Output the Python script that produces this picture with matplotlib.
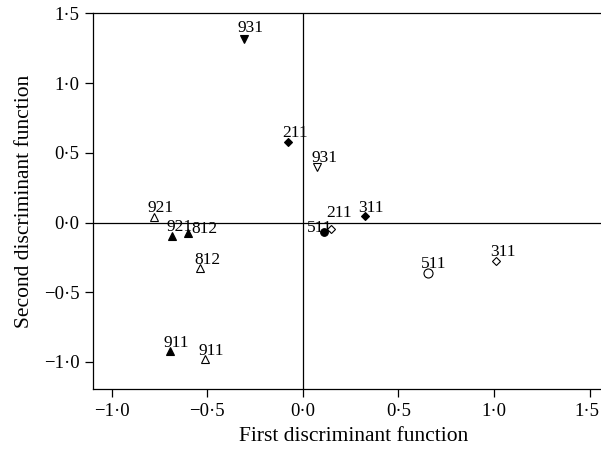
import matplotlib
matplotlib.use("Agg")
import matplotlib.pyplot as plt
import matplotlib.transforms as mtransforms

plt.rcParams["font.family"] = ["Liberation Serif", "DejaVu Serif"]
plt.rcParams["font.size"] = 12.5

# Discriminant scores
labels = ["931", "211", "931", "921", "921", "812", "812", "911", "911",
          "311", "511", "211", "511", "311"]
first_df = [-0.31, -0.078, 0.075, -0.78, -0.683, -0.60, -0.538, -0.695, -0.512,
            0.324, 0.111, 0.146, 0.652, 1.012]
second_df = [1.315, 0.58, 0.40, 0.043, -0.095, -0.072, -0.329, -0.925, -0.982,
             0.044, -0.065, -0.045, -0.36, -0.277]
shapes = ["v", "D", "v", "^", "^", "^", "^", "^", "^", "D", "o", "D", "o", "D"]
filled = [True, True, False, False, True, True, False, True, False,
          True, True, False, False, False]

# label offsets in points (left edge, baseline) relative to the marker
offsets = {0: (-4.5, 5.5), 10: (-12.5, 0), 11: (-3.5, 8.5), 5: (2.5, 0)}
marker_size = {"v": 5.5, "^": 5.5, "D": 3.8, "o": 6.5}

fig = plt.figure(figsize=(6.01, 4.53), dpi=100)
ax = fig.add_axes([0.1543, 0.1402, 0.869, 0.830])

ax.axhline(0, color="black", lw=0.9, zorder=1)
ax.axvline(0, color="black", lw=0.9, zorder=1)

for i, lab in enumerate(labels):
    m = shapes[i]
    ms = marker_size[m]
    if m == "o" and filled[i]:
        ms = 5.5
    ax.plot(first_df[i], second_df[i], marker=m, ls="none", ms=ms,
            mfc="black" if filled[i] else "white", mec="black", mew=0.8, zorder=3)
    dx, dy = offsets.get(i, (-4.5, 3.5))
    ax.annotate(lab, (first_df[i], second_df[i]), xytext=(dx, dy),
                textcoords="offset points", ha="left", va="baseline", zorder=4)

xticks = [-1.0, -0.5, 0.0, 0.5, 1.0, 1.5]
yticks = [-1.0, -0.5, 0.0, 0.5, 1.0, 1.5]


def fmt(v):
    s = f"{abs(v):.1f}".replace(".", "\u00b7")
    return ("\u2212" + s) if v < 0 else s


ax.set_xticks(xticks)
ax.set_xticklabels([fmt(v) for v in xticks])
ax.set_yticks(yticks)
ax.set_yticklabels([fmt(v) for v in yticks])
ax.set_xlim(-1.100, 1.633)
ax.set_ylim(-1.198, 1.5)
ax.tick_params(direction="out", length=5.5, width=0.9, pad=4, labelsize=13.5)
for s in ax.spines.values():
    s.set_linewidth(0.9)

# the last x tick label sits at the figure edge; nudge it in a little
last = ax.get_xticklabels()[-1]
last.set_transform(last.get_transform() +
                   mtransforms.ScaledTranslation(-3 / 100, 0, fig.dpi_scale_trans))

ax.set_xlabel("First discriminant function", fontsize=15.5, labelpad=5)
ax.set_ylabel("Second discriminant function", fontsize=15.5, labelpad=7)

fig.savefig("out.png", dpi=100)
